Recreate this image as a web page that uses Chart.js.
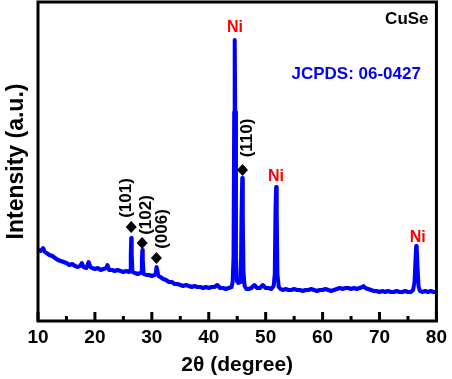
<!DOCTYPE html>
<html><head><meta charset="utf-8">
<script src="https://cdn.jsdelivr.net/npm/chart.js@4/dist/chart.umd.min.js"></script>
<style>html,body{margin:0;padding:0;background:#fff;}</style>
</head><body>
<canvas id="c" width="452" height="379"></canvas>
<script>
// 2θ (degree) scan positions
const twoTheta = [
 10.0,10.5,10.9,11.2,11.5,12.0,12.5,13.0,13.5,14.0,14.5,15.0,15.5,16.0,16.5,17.0,17.4,17.7,18.0,18.5,
 18.9,19.2,19.5,20.0,20.5,21.0,21.5,22.0,22.2,22.5,23.0,23.5,24.0,24.5,25.0,25.5,26.0,26.2,26.3,26.38,
 26.46,26.6,27.0,27.5,28.0,28.15,28.25,28.33,28.41,28.55,29.0,29.5,30.0,30.5,30.7,30.82,30.92,31.15,31.5,32.0,
 32.5,33.0,33.5,34.0,34.5,35.0,35.5,36.0,36.5,37.0,37.5,38.0,38.5,39.0,39.5,40.0,40.5,41.0,41.5,42.0,
 42.5,43.0,43.5,44.0,44.2,44.35,44.47,44.56,44.65,44.78,44.95,45.2,45.5,45.65,45.75,45.88,45.98,46.1,46.3,46.6,
 47.0,47.5,48.0,48.5,49.0,49.5,50.0,50.5,51.0,51.4,51.6,51.72,51.83,51.94,52.06,52.3,52.6,53.0,53.5,54.0,
 54.5,55.0,55.5,56.0,56.5,57.0,57.5,58.0,58.5,59.0,59.5,60.0,60.5,61.0,61.5,62.0,62.5,63.0,63.5,64.0,
 64.5,65.0,65.5,66.0,66.5,67.0,67.2,67.5,68.0,68.5,69.0,69.5,70.0,70.5,71.0,71.5,72.0,72.5,73.0,73.5,
 74.0,74.5,75.0,75.5,75.9,76.15,76.32,76.44,76.54,76.68,76.85,77.1,77.5,78.0,78.5,79.0,79.5,80.0
];
// Intensity (a.u.)
const intensity = [
 72,71,74,70,69,67,66,64,62,61,60,59,57,58,56,55,56,59,55,54,
 60,55,54,53,54,52,53,54,57,52,52,51,52,51,50,51,50,52,68,84,
 68,50,49,48,49,50,62,72,62,48,47,47,46,47,49,55,53,46,45,43,
 42,40,40,38,38,37,36,37,36,35,36,35,35,34,35,34,35,35,37,34,
 34,33,34,35,40,65,210,282,210,65,41,39,40,50,105,144,105,50,36,33,
 33,34,37,34,34,37,34,34,33,36,48,110,135,110,48,35,33,32,33,32,
 32,33,32,32,31,32,32,33,32,31,32,32,33,32,31,32,33,34,33,34,
 34,33,34,33,34,35,36,34,33,32,31,31,30,31,30,31,30,30,31,30,
 30,31,30,30,32,40,62,76,74,55,36,31,30,31,30,31,30,30
];
const xTickValues = [10,20,30,40,50,60,70,80];
const xMinorTicks = [15,25,35,45,55,65,75];

// Phase markers
const niPeaks = [44.6, 51.8, 76.7];
const niLabelHeights = [294, 145, 84];
const cuseHkl = ['(101)','(102)','(006)','(110)'];
const cuseDiamondX = [26.38, 28.3, 30.8, 45.93];
const cuseDiamondY = [95, 79, 64, 152];
const cuseLabelX = [25.5, 29.0, 31.9, 46.7];
const cuseLabelY = [124, 107, 93, 184];
const sampleName = 'CuSe';
const cardName = 'JCPDS: 06-0427';

const FONT = "'Liberation Sans', Arial, Helvetica, sans-serif";

const decor = {
  id: 'decor',
  afterDatasetsDraw(chart) {
    const {ctx, chartArea: a, scales: {x, y}} = chart;
    ctx.save();
    // frame
    ctx.strokeStyle = '#000';
    ctx.lineWidth = 3;
    ctx.strokeRect(a.left, a.top, a.right - a.left, a.bottom - a.top);
    // inward ticks
    ctx.lineWidth = 3;
    ctx.beginPath();
    xTickValues.forEach(v => { const p = x.getPixelForValue(v); ctx.moveTo(p, a.bottom); ctx.lineTo(p, a.bottom - 9); });
    xMinorTicks.forEach(v => { const p = x.getPixelForValue(v); ctx.moveTo(p, a.bottom); ctx.lineTo(p, a.bottom - 5); });
    ctx.stroke();
    // Ni labels
    ctx.fillStyle = '#ff0000';
    ctx.font = 'bold 16px ' + FONT;
    ctx.textAlign = 'center';
    ctx.textBaseline = 'middle';
    niPeaks.forEach((v, i) => ctx.fillText('Ni', x.getPixelForValue(v), y.getPixelForValue(niLabelHeights[i])));
    // diamonds and hkl labels
    ctx.fillStyle = '#000';
    cuseDiamondX.forEach((v, i) => {
      const px = x.getPixelForValue(v), py = y.getPixelForValue(cuseDiamondY[i]);
      ctx.beginPath();
      ctx.moveTo(px, py - 6); ctx.lineTo(px + 5.5, py); ctx.lineTo(px, py + 6); ctx.lineTo(px - 5.5, py);
      ctx.closePath(); ctx.fill();
    });
    ctx.font = 'bold 17px ' + FONT;
    cuseHkl.forEach((t, i) => {
      ctx.save();
      ctx.translate(x.getPixelForValue(cuseLabelX[i]), y.getPixelForValue(cuseLabelY[i]));
      ctx.rotate(-Math.PI / 2);
      ctx.fillText(t, 0, 0);
      ctx.restore();
    });
    // sample & card
    ctx.font = 'bold 17px ' + FONT;
    ctx.fillStyle = '#000';
    ctx.fillText(sampleName, x.getPixelForValue(74.8), y.getPixelForValue(303));
    ctx.fillStyle = '#0000ff';
    ctx.fillText(cardName, x.getPixelForValue(65.9), y.getPixelForValue(247.5));
    ctx.restore();
  }
};

new Chart(document.getElementById('c'), {
  type: 'line',
  data: {
    datasets: [{
      data: twoTheta.map((t, i) => ({x: t, y: intensity[i]})),
      borderColor: '#0000ff',
      borderWidth: 4,
      pointRadius: 0,
      tension: 0,
      borderJoinStyle: 'round',
      borderCapStyle: 'round',
      fill: false
    }]
  },
  options: {
    responsive: false,
    animation: false,
    devicePixelRatio: 1,
    layout: {padding: {top: 2, right: 13.5, left: 0, bottom: 0}},
    plugins: {legend: {display: false}, tooltip: {enabled: false}},
    scales: {
      x: {
        type: 'linear', min: 10, max: 80, position: 'bottom',
        grid: {display: false, drawTicks: false},
        border: {display: false},
        afterBuildTicks: s => { s.ticks = xTickValues.map(v => ({value: v})); },
        ticks: {color: '#000', font: {family: FONT, size: 19, weight: 'bold'}, padding: 5, maxRotation: 0, autoSkip: false},
        title: {display: true, text: '2θ (degree)', color: '#000', font: {family: FONT, size: 21, weight: 'bold'}, padding: {top: 0, bottom: 1.4}},
        afterFit: s => { s.height = 58; }
      },
      y: {
        min: 1, max: 320,
        grid: {display: false, drawTicks: false},
        border: {display: false},
        ticks: {display: false},
        title: {display: true, text: 'Intensity (a.u.)', color: '#000', font: {family: FONT, size: 23, weight: 'bold'}, padding: {top: 3, bottom: 0}},
        afterFit: s => { s.width = 38; }
      }
    }
  },
  plugins: [decor]
});
</script>
</body></html>
